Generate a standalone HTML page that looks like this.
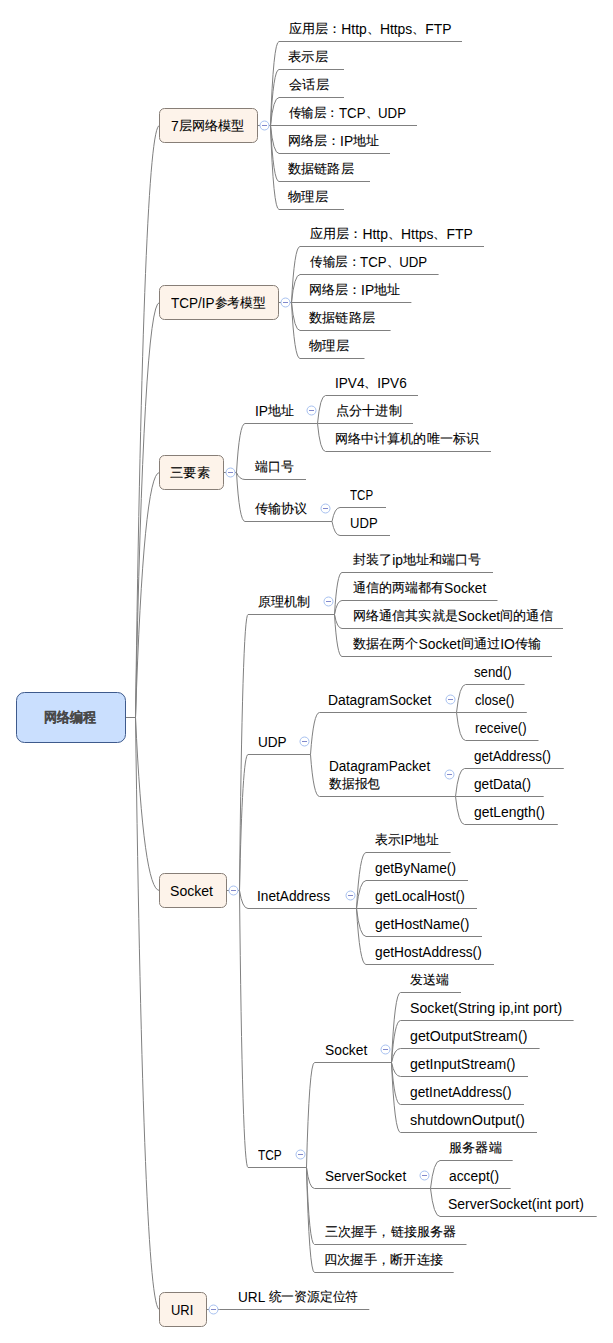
<!DOCTYPE html>
<html><head><meta charset="utf-8"><style>
html,body{margin:0;padding:0;background:#fff;width:613px;height:1343px;overflow:hidden}
svg{position:absolute;left:0;top:0}
.t{position:absolute;font-family:"Liberation Sans",sans-serif;font-size:13.8px;line-height:18px;white-space:nowrap;color:#000;transform-origin:0 0}
.c{font-size:13.4px;position:relative;top:-0.6px;-webkit-text-stroke:0.1px currentColor}
.r .c{font-size:13.5px}
.r{font-weight:bold;font-size:13.5px;color:#484848}
</style></head><body>
<svg width="613" height="1343" viewBox="0 0 613 1343">
<rect x="16.5" y="692.5" width="109" height="50" rx="8" ry="8" fill="#cadffe" stroke="#3e5a8c"/>
<path d="M126 717.5H135.5" stroke="#808080" fill="none"/>
<path d="M135.5 717.5Q143.50 125.5 159.5 125.5" stroke="#808080" fill="none"/>
<rect x="159.5" y="108.5" width="98" height="34" rx="5" ry="5" fill="#fdf3ea" stroke="#877e77"/>
<path d="M257.5 125.5H260.5M268.5 125.5H270.5" stroke="#808080" fill="none"/>
<circle cx="264.5" cy="125.5" r="4.5" fill="#fff" stroke="#a6c0f0"/>
<path d="M262 125.5H267" stroke="#8189cc" fill="none"/>
<path d="M135.5 717.5Q143.50 302.5 159.5 302.5" stroke="#808080" fill="none"/>
<rect x="159.5" y="285.5" width="119" height="34" rx="5" ry="5" fill="#fdf3ea" stroke="#877e77"/>
<path d="M278.5 302.5H281.5M289.5 302.5H291.5" stroke="#808080" fill="none"/>
<circle cx="285.5" cy="302.5" r="4.5" fill="#fff" stroke="#a6c0f0"/>
<path d="M283 302.5H288" stroke="#8189cc" fill="none"/>
<path d="M135.5 717.5Q143.50 472.5 159.5 472.5" stroke="#808080" fill="none"/>
<rect x="159.5" y="455.5" width="64" height="34" rx="5" ry="5" fill="#fdf3ea" stroke="#877e77"/>
<path d="M223.5 472.5H226.5M234.5 472.5H236.5" stroke="#808080" fill="none"/>
<circle cx="230.5" cy="472.5" r="4.5" fill="#fff" stroke="#a6c0f0"/>
<path d="M228 472.5H233" stroke="#8189cc" fill="none"/>
<path d="M135.5 717.5Q143.50 890.5 159.5 890.5" stroke="#808080" fill="none"/>
<rect x="159.5" y="873.5" width="67" height="34" rx="5" ry="5" fill="#fdf3ea" stroke="#877e77"/>
<path d="M226.5 890.5H229.5M237.5 890.5H239.5" stroke="#808080" fill="none"/>
<circle cx="233.5" cy="890.5" r="4.5" fill="#fff" stroke="#a6c0f0"/>
<path d="M231 890.5H236" stroke="#8189cc" fill="none"/>
<path d="M135.5 717.5Q143.50 1309.5 159.5 1309.5" stroke="#808080" fill="none"/>
<rect x="159.5" y="1292.5" width="47" height="34" rx="5" ry="5" fill="#fdf3ea" stroke="#877e77"/>
<path d="M206.5 1309.5H209.5M217.5 1309.5H219.5" stroke="#808080" fill="none"/>
<circle cx="213.5" cy="1309.5" r="4.5" fill="#fff" stroke="#a6c0f0"/>
<path d="M211 1309.5H216" stroke="#8189cc" fill="none"/>
<path d="M270.5 125.5Q273.33 41.5 279 41.5H462" stroke="#808080" fill="none"/>
<path d="M270.5 125.5Q273.33 69.5 279 69.5H344" stroke="#808080" fill="none"/>
<path d="M270.5 125.5Q273.33 97.5 279 97.5H344" stroke="#808080" fill="none"/>
<path d="M270.5 125.5H417" stroke="#808080" fill="none"/>
<path d="M270.5 125.5Q273.33 153.5 279 153.5H390" stroke="#808080" fill="none"/>
<path d="M270.5 125.5Q273.33 181.5 279 181.5H370" stroke="#808080" fill="none"/>
<path d="M270.5 125.5Q273.33 209.5 279 209.5H344" stroke="#808080" fill="none"/>
<path d="M291.5 302.5Q294.33 246.5 300 246.5H484" stroke="#808080" fill="none"/>
<path d="M291.5 302.5Q294.33 274.5 300 274.5H438.6" stroke="#808080" fill="none"/>
<path d="M291.5 302.5H411.4" stroke="#808080" fill="none"/>
<path d="M291.5 302.5Q294.33 330.5 300 330.5H390.6" stroke="#808080" fill="none"/>
<path d="M291.5 302.5Q294.33 358.5 300 358.5H364.5" stroke="#808080" fill="none"/>
<path d="M236.5 472.5Q239.33 423.5 245 423.5H317.5" stroke="#808080" fill="none"/>
<circle cx="311.5" cy="410.5" r="4.5" fill="#fff" stroke="#a6c0f0"/>
<path d="M309.0 410.5H314.0" stroke="#8189cc" fill="none"/>
<path d="M236.5 472.5Q239.33 479.5 245 479.5H306" stroke="#808080" fill="none"/>
<path d="M236.5 472.5Q239.33 521.5 245 521.5H332" stroke="#808080" fill="none"/>
<circle cx="325.5" cy="508.5" r="4.5" fill="#fff" stroke="#a6c0f0"/>
<path d="M323.0 508.5H328.0" stroke="#8189cc" fill="none"/>
<path d="M317.5 423.5Q320.17 395.5 325.5 395.5H418" stroke="#808080" fill="none"/>
<path d="M317.5 423.5H413" stroke="#808080" fill="none"/>
<path d="M317.5 423.5Q320.17 451.5 325.5 451.5H491" stroke="#808080" fill="none"/>
<path d="M332 521.5Q334.67 507.5 340 507.5H386" stroke="#808080" fill="none"/>
<path d="M332 521.5Q334.67 535.5 340 535.5H390" stroke="#808080" fill="none"/>
<path d="M239.5 890.5Q242.33 614.5 248 614.5H334.5" stroke="#808080" fill="none"/>
<circle cx="328.5" cy="601.5" r="4.5" fill="#fff" stroke="#a6c0f0"/>
<path d="M326.0 601.5H331.0" stroke="#8189cc" fill="none"/>
<path d="M239.5 890.5Q242.33 754.5 248 754.5H310.5" stroke="#808080" fill="none"/>
<circle cx="304.5" cy="741.5" r="4.5" fill="#fff" stroke="#a6c0f0"/>
<path d="M302.0 741.5H307.0" stroke="#8189cc" fill="none"/>
<path d="M239.5 890.5Q242.33 908.5 248 908.5H356.5" stroke="#808080" fill="none"/>
<circle cx="350.5" cy="895.5" r="4.5" fill="#fff" stroke="#a6c0f0"/>
<path d="M348.0 895.5H353.0" stroke="#8189cc" fill="none"/>
<path d="M239.5 890.5Q242.33 1167.5 248 1167.5H306.5" stroke="#808080" fill="none"/>
<circle cx="300.5" cy="1154.5" r="4.5" fill="#fff" stroke="#a6c0f0"/>
<path d="M298.0 1154.5H303.0" stroke="#8189cc" fill="none"/>
<path d="M334.5 614.5Q337.00 572.5 342 572.5H493" stroke="#808080" fill="none"/>
<path d="M334.5 614.5Q337.00 600.5 342 600.5H497.5" stroke="#808080" fill="none"/>
<path d="M334.5 614.5Q337.00 628.5 342 628.5H563" stroke="#808080" fill="none"/>
<path d="M334.5 614.5Q337.00 656.5 342 656.5H552" stroke="#808080" fill="none"/>
<path d="M310.5 754.5Q313.50 712.5 319.5 712.5H456.5" stroke="#808080" fill="none"/>
<circle cx="450.5" cy="699.5" r="4.5" fill="#fff" stroke="#a6c0f0"/>
<path d="M448.0 699.5H453.0" stroke="#8189cc" fill="none"/>
<path d="M310.5 754.5Q313.50 796.5 319.5 796.5H455.5" stroke="#808080" fill="none"/>
<circle cx="449.5" cy="774.5" r="4.5" fill="#fff" stroke="#a6c0f0"/>
<path d="M447.0 774.5H452.0" stroke="#8189cc" fill="none"/>
<path d="M456.5 712.5Q459.50 684.5 465.5 684.5H524.6" stroke="#808080" fill="none"/>
<path d="M456.5 712.5H526.8" stroke="#808080" fill="none"/>
<path d="M456.5 712.5Q459.50 740.5 465.5 740.5H538.5" stroke="#808080" fill="none"/>
<path d="M455.5 796.5Q458.50 768.5 464.5 768.5H563.8" stroke="#808080" fill="none"/>
<path d="M455.5 796.5H543.7" stroke="#808080" fill="none"/>
<path d="M455.5 796.5Q458.50 824.5 464.5 824.5H557.8" stroke="#808080" fill="none"/>
<path d="M356.5 908.5Q359.67 852.5 366 852.5H450.6" stroke="#808080" fill="none"/>
<path d="M356.5 908.5Q359.67 880.5 366 880.5H468" stroke="#808080" fill="none"/>
<path d="M356.5 908.5H477" stroke="#808080" fill="none"/>
<path d="M356.5 908.5Q359.67 936.5 366 936.5H482" stroke="#808080" fill="none"/>
<path d="M356.5 908.5Q359.67 964.5 366 964.5H494" stroke="#808080" fill="none"/>
<path d="M306.5 1167.5Q309.17 1062.5 314.5 1062.5H391.5" stroke="#808080" fill="none"/>
<circle cx="385.5" cy="1049.5" r="4.5" fill="#fff" stroke="#a6c0f0"/>
<path d="M383.0 1049.5H388.0" stroke="#8189cc" fill="none"/>
<path d="M306.5 1167.5Q309.17 1188.5 314.5 1188.5H430.5" stroke="#808080" fill="none"/>
<circle cx="424.5" cy="1175.5" r="4.5" fill="#fff" stroke="#a6c0f0"/>
<path d="M422.0 1175.5H427.0" stroke="#8189cc" fill="none"/>
<path d="M306.5 1167.5Q309.17 1244.5 314.5 1244.5H466.5" stroke="#808080" fill="none"/>
<path d="M306.5 1167.5Q309.17 1272.5 314.5 1272.5H453.7" stroke="#808080" fill="none"/>
<path d="M391.5 1062.5Q394.50 992.5 400.5 992.5H461" stroke="#808080" fill="none"/>
<path d="M391.5 1062.5Q394.50 1020.5 400.5 1020.5H573.6" stroke="#808080" fill="none"/>
<path d="M391.5 1062.5Q394.50 1048.5 400.5 1048.5H539.6" stroke="#808080" fill="none"/>
<path d="M391.5 1062.5Q394.50 1076.5 400.5 1076.5H528" stroke="#808080" fill="none"/>
<path d="M391.5 1062.5Q394.50 1104.5 400.5 1104.5H524" stroke="#808080" fill="none"/>
<path d="M391.5 1062.5Q394.50 1132.5 400.5 1132.5H537" stroke="#808080" fill="none"/>
<path d="M430.5 1188.5Q433.67 1160.5 440 1160.5H512.7" stroke="#808080" fill="none"/>
<path d="M430.5 1188.5H510.7" stroke="#808080" fill="none"/>
<path d="M430.5 1188.5Q433.67 1216.5 440 1216.5H596.7" stroke="#808080" fill="none"/>
<path d="M219.5 1309.5H369.3" stroke="#808080" fill="none"/>
</svg>
<div class="t b" style="left:171.19px;top:117.50px;transform:scaleX(1.0129)">7<span class="c">层网络模型</span></div>
<div class="t b" style="left:170.61px;top:294.50px;transform:scaleX(0.9799)">TCP/IP<span class="c">参考模型</span></div>
<div class="t b" style="left:170.45px;top:464.50px;transform:scaleX(1.0246)"><span class="c">三要素</span></div>
<div class="t b" style="left:170.17px;top:882.50px;transform:scaleX(1.0199)">Socket</div>
<div class="t b" style="left:170.96px;top:1301.50px;transform:scaleX(0.9376)">URI</div>
<div class="t" style="left:288.80px;top:21.00px;transform:scaleX(1.0063)"><span class="c">应用层：</span>Http<span class="c">、</span>Https<span class="c">、</span>FTP</div>
<div class="t" style="left:288.43px;top:49.00px;transform:scaleX(1.0210)"><span class="c">表示层</span></div>
<div class="t" style="left:288.71px;top:77.00px;transform:scaleX(1.0199)"><span class="c">会话层</span></div>
<div class="t" style="left:288.99px;top:105.00px;transform:scaleX(0.9610)"><span class="c">传输层：</span>TCP<span class="c">、</span>UDP</div>
<div class="t" style="left:288.35px;top:133.00px;transform:scaleX(1.0022)"><span class="c">网络层：</span>IP<span class="c">地址</span></div>
<div class="t" style="left:288.31px;top:161.00px;transform:scaleX(1.0125)"><span class="c">数据链路层</span></div>
<div class="t" style="left:288.30px;top:189.00px;transform:scaleX(1.0269)"><span class="c">物理层</span></div>
<div class="t" style="left:309.83px;top:226.00px;transform:scaleX(1.0074)"><span class="c">应用层：</span>Http<span class="c">、</span>Https<span class="c">、</span>FTP</div>
<div class="t" style="left:309.99px;top:254.00px;transform:scaleX(0.9625)"><span class="c">传输层：</span>TCP<span class="c">、</span>UDP</div>
<div class="t" style="left:309.35px;top:282.00px;transform:scaleX(1.0022)"><span class="c">网络层：</span>IP<span class="c">地址</span></div>
<div class="t" style="left:309.30px;top:310.00px;transform:scaleX(1.0150)"><span class="c">数据链路层</span></div>
<div class="t" style="left:309.38px;top:338.00px;transform:scaleX(1.0284)"><span class="c">物理层</span></div>
<div class="t" style="left:254.60px;top:403.00px;transform:scaleX(1.0014)">IP<span class="c">地址</span></div>
<div class="t" style="left:254.62px;top:459.00px;transform:scaleX(1.0000)"><span class="c">端口号</span></div>
<div class="t" style="left:254.95px;top:501.00px;transform:scaleX(1.0127)"><span class="c">传输协议</span></div>
<div class="t" style="left:335.20px;top:375.00px;transform:scaleX(0.9847)">IPV4<span class="c">、</span>IPV6</div>
<div class="t" style="left:335.50px;top:403.00px;transform:scaleX(1.0110)"><span class="c">点分十进制</span></div>
<div class="t" style="left:335.13px;top:431.00px;transform:scaleX(1.0060)"><span class="c">网络中计算机的唯一标识</span></div>
<div class="t" style="left:350.38px;top:487.00px;transform:scaleX(0.8367)">TCP</div>
<div class="t" style="left:349.96px;top:515.00px;transform:scaleX(0.9478)">UDP</div>
<div class="t" style="left:258.23px;top:594.00px;transform:scaleX(1.0065)"><span class="c">原理机制</span></div>
<div class="t" style="left:257.77px;top:734.00px;transform:scaleX(0.9842)">UDP</div>
<div class="t" style="left:257.33px;top:888.00px;transform:scaleX(0.9918)">InetAddress</div>
<div class="t" style="left:258.38px;top:1147.00px;transform:scaleX(0.8617)">TCP</div>
<div class="t" style="left:353.08px;top:552.00px;transform:scaleX(1.0061)"><span class="c">封装了</span>ip<span class="c">地址和端口号</span></div>
<div class="t" style="left:352.52px;top:580.00px;transform:scaleX(1.0005)"><span class="c">通信的两端都有</span>Socket</div>
<div class="t" style="left:352.55px;top:608.00px;transform:scaleX(1.0072)"><span class="c">网络通信其实就是</span>Socket<span class="c">间的通信</span></div>
<div class="t" style="left:352.53px;top:636.00px;transform:scaleX(1.0067)"><span class="c">数据在两个</span>Socket<span class="c">间通过</span>IO<span class="c">传输</span></div>
<div class="t" style="left:328.14px;top:692.00px;transform:scaleX(1.0053)">DatagramSocket</div>
<div class="t" style="left:329.42px;top:758.00px;transform:scaleX(0.9845)">DatagramPacket<br><span class="c">数据报包</span></div>
<div class="t" style="left:474.49px;top:664.00px;transform:scaleX(0.9603)">send()</div>
<div class="t" style="left:474.92px;top:692.00px;transform:scaleX(0.9537)">close()</div>
<div class="t" style="left:475.02px;top:720.00px;transform:scaleX(0.9618)">receive()</div>
<div class="t" style="left:474.29px;top:748.00px;transform:scaleX(0.9731)">getAddress()</div>
<div class="t" style="left:474.31px;top:776.00px;transform:scaleX(0.9906)">getData()</div>
<div class="t" style="left:474.22px;top:804.00px;transform:scaleX(1.0044)">getLength()</div>
<div class="t" style="left:374.63px;top:832.00px;transform:scaleX(0.9808)"><span class="c">表示</span>IP<span class="c">地址</span></div>
<div class="t" style="left:374.65px;top:860.00px;transform:scaleX(0.9963)">getByName()</div>
<div class="t" style="left:374.63px;top:888.00px;transform:scaleX(1.0009)">getLocalHost()</div>
<div class="t" style="left:374.54px;top:916.00px;transform:scaleX(1.0085)">getHostName()</div>
<div class="t" style="left:374.68px;top:944.00px;transform:scaleX(0.9945)">getHostAddress()</div>
<div class="t" style="left:324.58px;top:1042.00px;transform:scaleX(1.0013)">Socket</div>
<div class="t" style="left:324.64px;top:1168.00px;transform:scaleX(0.9797)">ServerSocket</div>
<div class="t" style="left:324.75px;top:1224.00px;transform:scaleX(1.0078)"><span class="c">三次握手，链接服务器</span></div>
<div class="t" style="left:324.39px;top:1252.00px;transform:scaleX(1.0168)"><span class="c">四次握手，断开连接</span></div>
<div class="t" style="left:410.18px;top:972.00px;transform:scaleX(0.9970)"><span class="c">发送端</span></div>
<div class="t" style="left:409.57px;top:1000.00px;transform:scaleX(1.0278)">Socket(String ip,int port)</div>
<div class="t" style="left:410.19px;top:1028.00px;transform:scaleX(1.0271)">getOutputStream()</div>
<div class="t" style="left:410.23px;top:1056.00px;transform:scaleX(1.0194)">getInputStream()</div>
<div class="t" style="left:410.32px;top:1084.00px;transform:scaleX(0.9952)">getInetAddress()</div>
<div class="t" style="left:409.87px;top:1112.00px;transform:scaleX(1.0466)">shutdownOutput()</div>
<div class="t" style="left:448.89px;top:1140.00px;transform:scaleX(1.0146)"><span class="c">服务器端</span></div>
<div class="t" style="left:449.31px;top:1168.00px;transform:scaleX(1.0030)">accept()</div>
<div class="t" style="left:448.08px;top:1196.00px;transform:scaleX(1.0127)">ServerSocket(int port)</div>
<div class="t" style="left:237.56px;top:1289.00px;transform:scaleX(0.9865)">URL <span class="c">统一资源定位符</span></div>
<div class="t r" style="left:43.96px;top:710.00px;transform:scaleX(0.9337)"><span class="c">网络编程</span></div>
</body></html>
